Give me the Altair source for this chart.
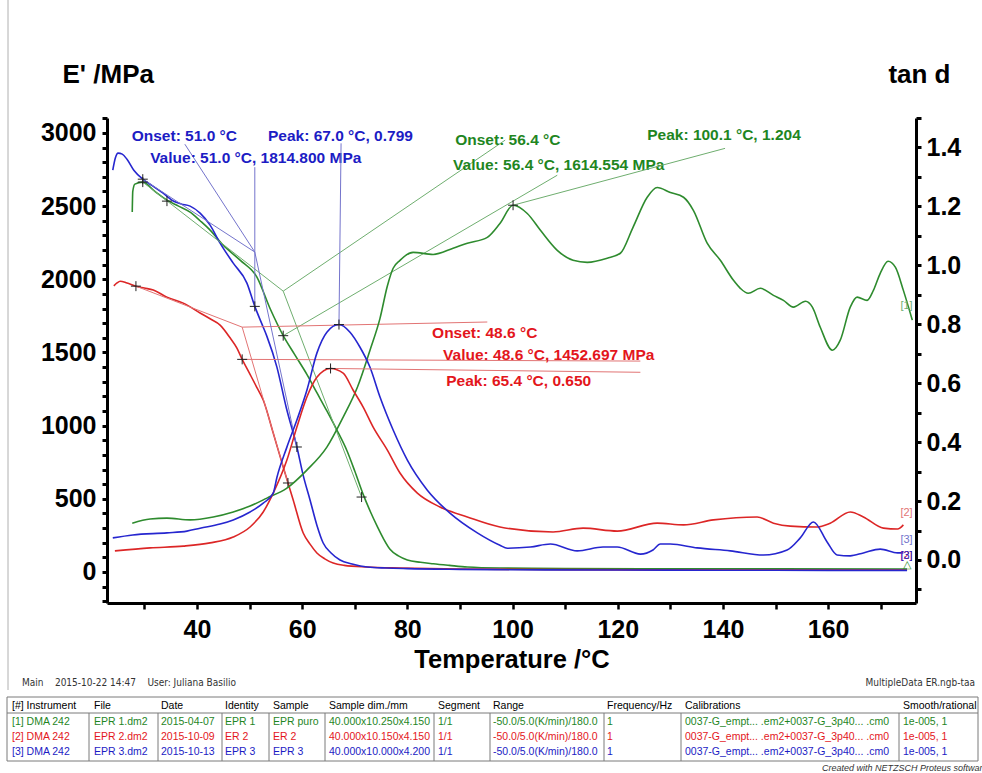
import altair as alt
import pandas as pd

# ---------------------------------------------------------------------------
# Storage modulus E' (MPa) against temperature (°C)
# ---------------------------------------------------------------------------
t_e_epr1 = [27.7, 27.8, 28.2, 29.7, 32.0, 34.3, 36.5, 38.7, 40.6, 42.5,
            45.0, 48.2, 51.4, 53.9, 56.4, 58.5, 60.9, 62.8, 64.7, 66.6,
            68.5, 70.0, 71.6, 73.0, 74.3, 75.5, 76.7, 78.3, 80.0, 82.5,
            84.9, 88.0, 91.4, 97.6, 110.0, 130.0, 150.0, 175.0]
e_epr1 = [2459, 2600, 2650, 2664, 2600, 2541, 2500, 2459, 2400, 2336,
          2233, 2131, 2015, 1800, 1615, 1490, 1350, 1225, 1100, 970,
          830, 690, 530, 410, 310, 225, 155, 110, 82, 66,
          56, 45, 34, 27, 24, 22, 21, 20]

t_e_er2 = [24.2, 24.8, 25.4, 26.7, 28.4, 30.0, 31.7, 34.3, 37.4, 40.6,
           42.5, 44.4, 46.3, 47.6, 48.6, 50.1, 51.4, 52.6, 54.5, 56.4,
           58.3, 60.2, 61.5, 62.8, 64.3, 65.9, 68.0, 72.4, 78.6, 90.0,
           110.0, 140.0, 175.0]
e_er2 = [1955, 1975, 1987, 1974, 1953, 1940, 1926, 1878, 1837, 1770,
         1730, 1687, 1600, 1530, 1453, 1350, 1260, 1175, 949, 717,
         492, 266, 190, 130, 90, 61, 45, 34, 27, 20,
         16, 14, 13]

t_e_epr3 = [24.0, 24.5, 25.0, 25.8, 26.7, 28.0, 29.7, 31.5, 33.5, 35.5,
            37.0, 38.7, 40.6, 42.5, 44.4, 46.9, 49.5, 51.0, 52.4, 53.3,
            55.2, 57.0, 59.0, 60.2, 61.5, 62.8, 64.0, 65.5, 67.2, 69.5,
            72.4, 76.0, 80.0, 90.0, 100.0, 120.0, 140.0, 160.0, 175.0]
e_epr3 = [2746, 2830, 2862, 2855, 2820, 2745, 2684, 2640, 2590, 2535,
          2515, 2500, 2452, 2370, 2247, 2110, 1974, 1815, 1690, 1610,
          1400, 1120, 854, 660, 492, 320, 198, 130, 82, 55,
          34, 27, 23, 18, 15, 13, 12, 11, 11]

# ---------------------------------------------------------------------------
# Loss factor tan d against temperature (°C)
# ---------------------------------------------------------------------------
t_tan_epr1 = [27.7, 31.1, 34.3, 38.7, 43.1, 46.9, 50.1, 53.3, 57.1, 60.9,
              64.7, 67.8, 70.5, 72.9, 74.8, 76.2, 77.3, 78.6, 81.1, 84.9,
              88.7, 91.4, 95.2, 97.6, 100.1, 102.8, 105.3, 108.5, 111.5, 114.2,
              118.0, 120.5, 122.9, 125.6, 127.5, 130.0, 132.5, 134.4, 137.0, 139.5,
              142.0, 143.3, 144.8, 147.1, 149.6, 151.5, 153.4, 155.7, 157.0, 158.5,
              160.8, 162.3, 164.2, 165.5, 167.4, 168.6, 169.9, 171.4, 172.8, 174.3, 176.0]
tan_epr1 = [0.125, 0.139, 0.142, 0.136, 0.146, 0.163, 0.183, 0.210, 0.244, 0.305,
            0.383, 0.485, 0.586, 0.712, 0.820, 0.930, 0.990, 1.017, 1.044, 1.037,
            1.058, 1.075, 1.095, 1.142, 1.204, 1.176, 1.119, 1.051, 1.017, 1.010,
            1.024, 1.041, 1.129, 1.231, 1.264, 1.247, 1.231, 1.186, 1.075, 1.017,
            0.949, 0.922, 0.905, 0.922, 0.898, 0.881, 0.858, 0.878, 0.858, 0.790,
            0.712, 0.746, 0.858, 0.892, 0.881, 0.915, 0.973, 1.014, 0.993, 0.915, 0.814]

t_tan_er2 = [24.4, 31.1, 37.4, 42.5, 46.9, 50.1, 52.6, 54.5, 57.1, 59.0,
             60.9, 62.8, 65.4, 67.8, 69.7, 71.6, 73.5, 76.2, 78.6, 81.9,
             86.2, 91.4, 97.6, 107.7, 113.4, 119.9, 127.5, 132.5, 138.2, 146.5,
             149.6, 152.8, 157.9, 160.4, 164.2, 166.7, 170.5, 173.2, 174.3]
tan_er2 = [0.031, 0.041, 0.047, 0.058, 0.078, 0.112, 0.163, 0.227, 0.339, 0.451,
           0.553, 0.620, 0.650, 0.634, 0.576, 0.519, 0.451, 0.373, 0.295, 0.227,
           0.180, 0.146, 0.112, 0.095, 0.108, 0.098, 0.125, 0.119, 0.136, 0.146,
           0.125, 0.115, 0.112, 0.125, 0.163, 0.146, 0.108, 0.105, 0.119]

t_tan_epr3 = [24.0, 27.8, 34.3, 38.1, 40.6, 44.4, 46.9, 50.1, 52.6, 54.5,
              55.2, 57.1, 59.0, 60.9, 62.8, 64.7, 67.0, 69.1, 71.0, 72.9,
              74.8, 77.3, 80.0, 83.8, 88.1, 93.3, 97.6, 99.0, 103.4, 107.2,
              112.3, 117.2, 119.9, 124.3, 126.7, 128.1, 130.0, 135.1, 141.4, 147.7,
              152.2, 154.7, 157.2, 159.8, 161.7, 164.2, 166.7, 169.9, 173.2, 174.3]
tan_epr3 = [0.075, 0.085, 0.092, 0.098, 0.108, 0.122, 0.136, 0.163, 0.193, 0.227,
            0.280, 0.383, 0.475, 0.576, 0.702, 0.773, 0.799, 0.773, 0.722, 0.654,
            0.553, 0.441, 0.339, 0.237, 0.159, 0.092, 0.050, 0.040, 0.044, 0.054,
            0.031, 0.044, 0.044, 0.020, 0.034, 0.054, 0.054, 0.041, 0.031, 0.017,
            0.034, 0.075, 0.129, 0.061, 0.017, 0.014, 0.024, 0.037, 0.024, 0.024]

# ---------------------------------------------------------------------------
# Evaluation results (onset / value on E', peak on tan d)
# ---------------------------------------------------------------------------
onset_temp = {"EPR 1": 56.4, "ER 2": 48.6, "EPR 3": 51.0}
onset_level = {"EPR 1": 1919, "ER 2": 1673, "EPR 3": 2186}
value_e = {"EPR 1": 1614.554, "ER 2": 1452.697, "EPR 3": 1814.800}
peak_temp = {"EPR 1": 100.1, "ER 2": 65.4, "EPR 3": 67.0}
peak_tan = {"EPR 1": 1.204, "ER 2": 0.650, "EPR 3": 0.799}

# tangent anchor points (T, E') before and after the step
tangent_start = {"EPR 1": (29.7, 2664), "ER 2": (28.4, 1953), "EPR 3": (29.7, 2684)}
tangent_end = {"EPR 1": (71.3, 512), "ER 2": (57.3, 608), "EPR 3": (59.0, 854)}
extra_anchor = [("EPR 1", 34.3, 2534)]

# label anchors (T, E') of the result texts, and leader end points
onset_label_at = {"EPR 1": (89.1, 2951), "ER 2": (84.7, 1632), "EPR 3": (27.6, 2978)}
value_label_at = {"EPR 1": (88.7, 2780), "ER 2": (86.8, 1482), "EPR 3": (31.1, 2828)}
peak_label_at = {"EPR 1": (125.6, 2985), "ER 2": (87.4, 1305), "EPR 3": (53.5, 2978)}
onset_leader_to = {"EPR 1": (98.6, 2951), "ER 2": (95.2, 1708), "EPR 3": (37.7, 2923)}
value_leader_to = {"EPR 1": (108.5, 2711), "ER 2": (124.3, 1441), "EPR 3": (51.0, 2766)}
peak_leader_to = {"EPR 1": (140.4, 1.397), "ER 2": (124.3, 0.637), "EPR 3": (67.4, 1.414)}

# ---------------------------------------------------------------------------
# Measurement table and page texts
# ---------------------------------------------------------------------------
table_header = ["[#] Instrument", "File", "Date", "Identity", "Sample", "Sample dim./mm",
                "Segment", "Range", "Frequency/Hz", "Calibrations", "Smooth/rational"]
table_rows = [
    ["[1] DMA 242", "EPR 1.dm2", "2015-04-07", "EPR 1", "EPR puro", "40.000x10.250x4.150",
     "1/1", "-50.0/5.0(K/min)/180.0", "1", "0037-G_empt...  .em2+0037-G_3p40...  .cm0", "1e-005, 1"],
    ["[2] DMA 242", "EPR 2.dm2", "2015-10-09", "ER 2", "ER 2", "40.000x10.150x4.150",
     "1/1", "-50.0/5.0(K/min)/180.0", "1", "0037-G_empt...  .em2+0037-G_3p40...  .cm0", "1e-005, 1"],
    ["[3] DMA 242", "EPR 3.dm2", "2015-10-13", "EPR 3", "EPR 3", "40.000x10.000x4.200",
     "1/1", "-50.0/5.0(K/min)/180.0", "1", "0037-G_empt...  .em2+0037-G_3p40...  .cm0", "1e-005, 1"],
]
row_series = ["EPR 1", "ER 2", "EPR 3"]
footer_left = "Main\u00a0\u00a0\u00a0 2015-10-22 14:47\u00a0\u00a0\u00a0 User: Juliana Basilio"
footer_right = "MultipleData ER.ngb-taa"
credit = "Created with NETZSCH Proteus software"

# ---------------------------------------------------------------------------
# Styling and layout
# ---------------------------------------------------------------------------
SERIES = ["EPR 1", "ER 2", "EPR 3"]
LINE = {"EPR 1": "#2e8b2e", "ER 2": "#dc2626", "EPR 3": "#2626cf"}
THIN = {"EPR 1": "#6fae6f", "ER 2": "#e27474", "EPR 3": "#7474cc"}
TEXT = {"EPR 1": "#1f861f", "ER 2": "#e3161c", "EPR 3": "#1c1cc4"}
CONDENSED = "DejaVu Sans Condensed, sans-serif"
ARIAL = "Liberation Sans, Arial, sans-serif"

PLOT_W, PLOT_H = 809, 485
LEFT, TOP = 107, 118
COL_X = [12, 94, 161, 225, 273, 329, 438, 493, 607, 685, 903]
ROW_Y = [706, 722, 737, 752]
SEP_X = [89, 158, 222, 269, 325, 434, 490, 604, 681, 899]
TABLE_BOX = (7, 697, 978, 761)
HEADER_LINE_Y = 713

x_scale = alt.Scale(domain=[22.9, 176.7], nice=False, zero=False)
e_scale = alt.Scale(domain=[-212, 3102], nice=False, zero=False)
tan_scale = alt.Scale(domain=[-0.146, 1.5], nice=False, zero=False)
series_colors = alt.Scale(domain=SERIES, range=[LINE[s] for s in SERIES])


def long_frame(parts):
    rows = []
    for name, ts, vs in parts:
        for i, (t, v) in enumerate(zip(ts, vs)):
            rows.append({"series": name, "T": t, "v": v, "i": i})
    return pd.DataFrame(rows)


e_df = long_frame([("EPR 1", t_e_epr1, e_epr1), ("ER 2", t_e_er2, e_er2),
                   ("EPR 3", t_e_epr3, e_epr3)])
tan_df = long_frame([("EPR 1", t_tan_epr1, tan_epr1), ("ER 2", t_tan_er2, tan_er2),
                     ("EPR 3", t_tan_epr3, tan_epr3)])

# tangent construction lines and leaders on the E' scale
seg_rows = []
for s in SERIES:
    ot, ov = onset_temp[s], onset_level[s]
    (t0, v0), (t1, v1) = tangent_start[s], tangent_end[s]
    seg_rows.append({"T": t0, "v": v0, "T2": ot, "v2": ov, "c": THIN[s]})
    seg_rows.append({"T": ot, "v": ov, "T2": t1, "v2": v1, "c": THIN[s]})
    lt, lv = onset_leader_to[s]
    seg_rows.append({"T": ot, "v": ov, "T2": lt, "v2": lv, "c": THIN[s]})
    lt, lv = value_leader_to[s]
    seg_rows.append({"T": ot, "v": value_e[s], "T2": lt, "v2": lv, "c": THIN[s]})
seg_df = pd.DataFrame(seg_rows)

peak_seg_df = pd.DataFrame([
    {"T": peak_temp[s], "v": peak_tan[s], "T2": peak_leader_to[s][0],
     "v2": peak_leader_to[s][1], "c": THIN[s]} for s in SERIES])

mark_e_rows = []
for s in SERIES:
    mark_e_rows.append({"T": tangent_start[s][0], "v": tangent_start[s][1]})
    mark_e_rows.append({"T": tangent_end[s][0], "v": tangent_end[s][1]})
    mark_e_rows.append({"T": onset_temp[s], "v": value_e[s]})
for s, t, v in extra_anchor:
    mark_e_rows.append({"T": t, "v": v})
mark_e_df = pd.DataFrame(mark_e_rows)
mark_tan_df = pd.DataFrame([{"T": peak_temp[s], "v": peak_tan[s]} for s in SERIES])

label_rows = []
for s in SERIES:
    t, v = onset_label_at[s]
    label_rows.append({"T": t, "v": v, "c": TEXT[s], "txt": f"Onset: {onset_temp[s]:.1f} °C"})
    t, v = value_label_at[s]
    label_rows.append({"T": t, "v": v, "c": TEXT[s],
                       "txt": f"Value: {onset_temp[s]:.1f} °C, {value_e[s]:.3f} MPa"})
    t, v = peak_label_at[s]
    label_rows.append({"T": t, "v": v, "c": TEXT[s],
                       "txt": f"Peak: {peak_temp[s]:.1f} °C, {peak_tan[s]:.3f}"})
label_df = pd.DataFrame(label_rows)

# curve end tags
tag_df = pd.DataFrame([
    {"T": 174.9, "v": 0.861, "txt": "[1]", "c": THIN["EPR 1"]},
    {"T": 174.9, "v": 0.159, "txt": "[2]", "c": THIN["ER 2"]},
    {"T": 174.9, "v": 0.068, "txt": "[3]", "c": THIN["EPR 3"]},
    {"T": 174.9, "v": 0.014, "txt": "[2]", "c": LINE["ER 2"]},
    {"T": 174.9, "v": 0.014, "txt": "[3]", "c": LINE["EPR 3"]},
    {"T": 174.9, "v": -0.016, "txt": "△", "c": LINE["EPR 1"]},
])

# table cells in page pixels relative to the plot origin
head_df = pd.DataFrame([{"px": COL_X[j] - LEFT, "py": ROW_Y[0] - TOP, "txt": h}
                        for j, h in enumerate(table_header)])
cell_rows = []
for r, row in enumerate(table_rows):
    for j, cell in enumerate(row):
        cell_rows.append({"px": COL_X[j] - LEFT, "py": ROW_Y[r + 1] - TOP, "txt": cell,
                          "c": TEXT[row_series[r]]})
cell_df = pd.DataFrame(cell_rows)

x0, y0, x1, y1 = TABLE_BOX
grid_rows = [
    (x0, y0, x1, y0), (x0, y1, x1, y1), (x0, y0, x0, y1), (x1, y0, x1, y1),
    (x0, HEADER_LINE_Y, x1, HEADER_LINE_Y),
] + [(sx, HEADER_LINE_Y, sx, y1) for sx in SEP_X]
grid_df = pd.DataFrame([{"px": a - LEFT, "py": b - TOP, "px2": c - LEFT, "py2": d - TOP}
                        for a, b, c, d in grid_rows])

# ---------------------------------------------------------------------------
# Axes (the same axis object is given to every layer that shares a scale)
# ---------------------------------------------------------------------------
x_axis = alt.Axis(
    values=list(range(30, 171, 10)),
    labelExpr="datum.value % 20 == 0 ? datum.label : ''",
    title="Temperature /°C", titleFont=ARIAL, titleFontSize=25.5, titleFontWeight="bold",
    titleColor="#000", titleBaseline="alphabetic", titleY=64,
    labelFont=ARIAL, labelFontSize=25, labelFontWeight="bold", labelColor="#000",
    labelPadding=8, tickSize=6, tickWidth=2.5, tickColor="#000",
    domainColor="#000", domainWidth=3, grid=False,
)
e_axis = alt.Axis(
    orient="left", values=list(range(-200, 3101, 100)),
    labelExpr="datum.value % 500 == 0 ? format(datum.value, 'd') : ''",
    title="E' /MPa", titleAngle=0, titleX=-45, titleY=-36, titleAlign="left",
    titleBaseline="alphabetic", titleFont=ARIAL, titleFontSize=26, titleFontWeight="bold",
    titleColor="#000",
    labelFont=ARIAL, labelFontSize=25, labelFontWeight="bold", labelColor="#000",
    labelPadding=6, tickSize=5, tickWidth=3, tickColor="#000",
    domainColor="#000", domainWidth=3, grid=False,
)
tan_axis = alt.Axis(
    orient="right", values=[round(k / 10, 1) for k in range(-1, 16)],
    labelExpr="round(datum.value * 10) % 2 == 0 ? format(datum.value, '.1f') : ''",
    title="tan d", titleAngle=0, titleX=34, titleY=-36, titleAlign="right",
    titleBaseline="alphabetic", titleFont=ARIAL, titleFontSize=26, titleFontWeight="bold",
    titleColor="#000",
    labelFont=ARIAL, labelFontSize=25, labelFontWeight="bold", labelColor="#000",
    labelPadding=5, tickSize=5, tickWidth=3, tickColor="#000",
    domainColor="#000", domainWidth=3, grid=False,
)

X = alt.X("T:Q", scale=x_scale, axis=x_axis)
YE = alt.Y("v:Q", scale=e_scale, axis=e_axis)
YT = alt.Y("v:Q", scale=tan_scale, axis=tan_axis)
PX = alt.X("px:Q", scale=None, axis=None)
PY = alt.Y("py:Q", scale=None, axis=None)
CROSS = "M-1,0L1,0M0,-1L0,1"

e_lines = alt.Chart(e_df).mark_line(strokeWidth=1.6, interpolate="monotone").encode(
    x=X, y=YE,
    color=alt.Color("series:N", scale=series_colors, legend=None),
    order="i:Q",
)
e_segments = alt.Chart(seg_df).mark_rule(strokeWidth=1).encode(
    x=X, y=YE, x2="T2:Q", y2="v2:Q", color=alt.Color("c:N", scale=None))
e_marks = alt.Chart(mark_e_df).mark_point(
    shape=CROSS, size=100, filled=False, strokeWidth=1, color="#222", opacity=1
).encode(x=X, y=YE)
labels = alt.Chart(label_df).mark_text(
    align="left", baseline="middle", font=ARIAL, fontSize=15.5, fontWeight="bold"
).encode(x=X, y=YE, text="txt:N", color=alt.Color("c:N", scale=None))

heads = alt.Chart(head_df).mark_text(
    align="left", baseline="middle", font=ARIAL, fontSize=10.5, color="#000"
).encode(x=PX, y=PY, text="txt:N")
cells = alt.Chart(cell_df).mark_text(align="left", baseline="middle", font=ARIAL, fontSize=10.5).encode(
    x=PX, y=PY, text="txt:N", color=alt.Color("c:N", scale=None))
grid = alt.Chart(grid_df).mark_rule(strokeWidth=1, color="#7a7a7a").encode(
    x=PX, y=PY, x2="px2:Q", y2="py2:Q")

footer_l = alt.Chart(pd.DataFrame({"txt": [footer_left]})).mark_text(
    align="left", baseline="middle", font=CONDENSED, fontSize=10, color="#333"
).encode(x=alt.value(22 - LEFT), y=alt.value(683 - TOP), text="txt:N")
footer_r = alt.Chart(pd.DataFrame({"txt": [footer_right]})).mark_text(
    align="right", baseline="middle", font=CONDENSED, fontSize=10, color="#333"
).encode(x=alt.value(975 - LEFT), y=alt.value(683 - TOP), text="txt:N")
credit_text = alt.Chart(pd.DataFrame({"txt": [credit]})).mark_text(
    align="left", baseline="middle", font=ARIAL, fontSize=9, fontStyle="italic", color="#333"
).encode(x=alt.value(822 - LEFT), y=alt.value(768 - TOP), text="txt:N")
frame = alt.Chart(pd.DataFrame({"k": [0]})).mark_rule(color="#b0b0b0", strokeWidth=1).encode(
    x=alt.value(8 - LEFT), y=alt.value(0 - TOP), y2=alt.value(690 - TOP))

tan_lines = alt.Chart(tan_df).mark_line(strokeWidth=1.6, interpolate="monotone").encode(
    x=X, y=YT,
    color=alt.Color("series:N", scale=series_colors, legend=None),
    order="i:Q",
)
tan_segments = alt.Chart(peak_seg_df).mark_rule(strokeWidth=1).encode(
    x=X, y=YT, x2="T2:Q", y2="v2:Q", color=alt.Color("c:N", scale=None))
tan_marks = alt.Chart(mark_tan_df).mark_point(
    shape=CROSS, size=100, filled=False, strokeWidth=1, color="#222", opacity=1
).encode(x=X, y=YT)
tags = alt.Chart(tag_df).mark_text(align="center", baseline="middle", font=ARIAL, fontSize=11).encode(
    x=X, y=YT, text="txt:N", color=alt.Color("c:N", scale=None))

left_group = alt.layer(e_lines, e_segments, e_marks, labels, heads, cells, grid,
                       footer_l, footer_r, credit_text, frame)
right_group = alt.layer(tan_lines, tan_segments, tan_marks, tags)

chart = alt.layer(left_group, right_group).resolve_scale(y="independent").properties(
    width=PLOT_W, height=PLOT_H,
    autosize=alt.AutoSizeParams(type="none"),
    padding={"left": LEFT, "top": TOP, "right": 982 - LEFT - PLOT_W, "bottom": 773 - TOP - PLOT_H},
    background="white",
).configure_view(stroke="transparent")

chart.save("out.html", embed_options={"renderer": "svg", "actions": False})
